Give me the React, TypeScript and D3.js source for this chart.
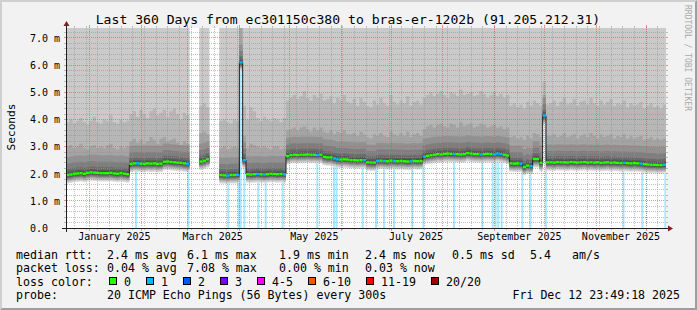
import React from 'react';
import * as d3 from 'd3';

// ---------- data ----------
const START = Date.UTC(2024, 11, 17, 23, 49, 18);
const END = Date.UTC(2025, 11, 12, 23, 49, 18);
const TOTAL_DAYS = 360;
const DAYS_PER_BIN = 2;

// median rtt per 2-day bin (ms); null = no data
const medianRtt: (number | null)[] = [
  1.95, 1.97, 2.0, 2.01, 2.02, 2.0, 2.03, 2.05, 2.04, 2.03, 2.02, 2.02, 2.02, 2.03, 2.01, 2.0, 2.02, 2.0, 1.98,
  2.36, 2.38, 2.38, 2.37, 2.36, 2.38, 2.37, 2.38, 2.36, 2.37, 2.44, 2.45, 2.43, 2.42, 2.41, 2.4, 2.38, 2.37,
  null, null, null,
  2.45, 2.48, 2.53,
  null, null, null,
  1.95, 1.94, 1.93, 1.95, 1.95, 1.96,
  6.1,
  2.5,
  1.98, 1.97, 1.98, 1.99, 1.98, 1.97, 1.98, 2.0, 1.99, 1.98, 1.99, 1.98,
  2.65, 2.69, 2.7, 2.69, 2.7, 2.7, 2.71, 2.7, 2.7, 2.69, 2.7, 2.62, 2.6, 2.6, 2.56, 2.53, 2.52, 2.53, 2.52,
  2.5, 2.5, 2.49, 2.5, 2.5, 2.42, 2.41, 2.41, 2.47, 2.48, 2.47, 2.46, 2.48, 2.47, 2.46, 2.47, 2.46, 2.45, 2.46, 2.47, 2.46, 2.47,
  2.63, 2.66, 2.68, 2.7, 2.72, 2.71, 2.73, 2.74, 2.73, 2.72, 2.72, 2.71, 2.72, 2.76, 2.74, 2.72, 2.72, 2.71, 2.72, 2.73, 2.72, 2.71, 2.74, 2.72, 2.7, 2.67,
  2.38, 2.37, 2.38, 2.37, 2.25, 2.3, 2.28, 2.54, 2.54, 2.4, 4.14, 2.42,
  2.42, 2.41, 2.43, 2.42, 2.42, 2.41, 2.43, 2.42, 2.41, 2.42, 2.43, 2.41, 2.42, 2.41, 2.42, 2.4, 2.41, 2.42, 2.4, 2.41, 2.4, 2.39, 2.4, 2.39, 2.38, 2.39, 2.38, 2.37, 2.35, 2.34, 2.33, 2.33, 2.32, 2.32, 2.33,
];

// 18th of 20 sorted pings per bin (ms) - top of the mid-grey smoke band
const ping18: (number | null)[] = [
  3.9, 4.0, 3.85, 3.95, 4.05, 3.9, 3.8, 3.95, 4.1, 3.9, 3.85, 4.0, 3.95, 4.15, 3.9, 3.85, 4.0, 3.9, 3.95,
  4.2, 4.3, 4.1, 4.35, 4.2, 4.05, 4.3, 4.4, 4.15, 4.25, 4.35, 4.1, 4.3, 4.4, 4.2, 4.0, 4.25, 4.15,
  null, null, null,
  4.5, 4.6, 4.45,
  null, null, null,
  3.95, 4.0, 3.9, 3.85, 4.0, 3.95,
  7.6,
  4.5,
  4.0, 4.45, 4.3, 4.05, 3.95, 4.1, 4.0, 3.95, 4.05, 4.0, 3.9, 4.05,
  4.7, 4.8, 4.9, 4.75, 4.85, 5.05, 4.8, 4.7, 4.9, 4.8, 4.95, 4.7, 4.75, 4.85, 4.6, 4.8, 4.7, 4.9, 4.65,
  4.6, 4.75, 4.5, 4.8, 4.65, 4.5, 4.45, 4.7, 4.55, 4.8, 4.6, 4.5, 4.9, 4.65, 4.55, 4.7, 4.6, 4.85, 4.5, 4.65, 4.7, 4.55,
  4.8, 4.9, 5.0, 4.85, 4.95, 5.05, 4.9, 4.8, 5.0, 4.95, 4.85, 5.1, 4.9, 4.95, 5.0, 4.85, 4.9, 5.05, 4.95, 4.8, 4.9, 5.0, 4.85, 4.95, 4.8, 4.9,
  4.5, 4.6, 4.45, 4.55, 4.4, 4.65, 4.5, 4.7, 4.6, 4.5, 5.4, 4.55,
  4.6, 4.7, 4.5, 4.65, 4.8, 4.55, 4.6, 4.75, 4.5, 4.65, 4.7, 4.55, 4.8, 4.6, 4.5, 4.7, 4.55, 4.65, 4.75, 4.5, 4.6, 4.55, 4.7, 4.45, 4.6, 4.5, 4.55, 4.65, 4.4, 4.5, 4.6, 4.45, 4.5, 4.4, 4.55,
];

// 17th of 20 sorted pings per bin (ms)
const ping17: (number | null)[] = [
  3.0, 3.05, 2.95, 3.0, 3.1, 2.95, 2.9, 3.0, 3.05, 2.95, 3.0, 2.95, 3.05, 3.1, 2.95, 2.9, 3.0, 2.95, 3.0,
  3.2, 3.3, 3.15, 3.25, 3.1, 3.2, 3.35, 3.25, 3.1, 3.3, 3.35, 3.2, 3.25, 3.3, 3.15, 3.05, 3.2, 3.1,
  null, null, null,
  3.5, 3.55, 3.45,
  null, null, null,
  2.95, 3.0, 2.9, 2.95, 3.0, 2.95,
  7.5,
  3.4,
  2.95, 3.1, 3.05, 3.0, 2.95, 3.0, 2.95, 2.9, 3.0, 3.0, 2.9, 2.95,
  3.6, 3.65, 3.7, 3.6, 3.7, 3.75, 3.65, 3.55, 3.7, 3.6, 3.7, 3.55, 3.5, 3.6, 3.45, 3.55, 3.5, 3.6, 3.45,
  3.45, 3.5, 3.4, 3.55, 3.45, 3.35, 3.3, 3.45, 3.4, 3.5, 3.4, 3.35, 3.55, 3.45, 3.4, 3.5, 3.4, 3.55, 3.35, 3.45, 3.5, 3.4,
  3.65, 3.75, 3.8, 3.7, 3.8, 3.85, 3.75, 3.7, 3.85, 3.8, 3.7, 3.9, 3.75, 3.8, 3.85, 3.7, 3.75, 3.85, 3.8, 3.7, 3.75, 3.8, 3.7, 3.75, 3.65, 3.7,
  3.35, 3.4, 3.3, 3.35, 3.25, 3.4, 3.3, 3.5, 3.45, 3.35, 4.9, 3.4,
  3.4, 3.45, 3.35, 3.4, 3.5, 3.35, 3.4, 3.45, 3.3, 3.4, 3.45, 3.35, 3.5, 3.4, 3.3, 3.45, 3.35, 3.4, 3.45, 3.3, 3.4, 3.35, 3.45, 3.3, 3.4, 3.3, 3.35, 3.4, 3.25, 3.3, 3.35, 3.25, 3.3, 3.25, 3.3,
];

// typical spread of the remaining sorted pings around the median (ms)
const lowerPingOffsets = [-0.31, -0.27, -0.23, -0.2, -0.17, -0.14, -0.11, -0.08, -0.05, -0.02]; // pings 1..10
const upperPingOffsets = [0.02, 0.06, 0.12, 0.22, 0.42, 0.66]; // pings 11..16
const outlierPings = [8.5, 9.5]; // pings 19, 20 (off scale)

// days (from start) with 1/20 packet loss
const lossDays = [
  42.0, 73.4, 97.4, 103.6, 104.8, 107.0, 115.4, 119.8, 130.0, 150.8, 160.8, 162.3, 178.0, 186.0, 190.8,
  196.8, 207.8, 214.4, 232.8, 249.8, 256.0, 257.8, 259.4, 261.4, 273.8, 278.7, 287.9, 334.5, 345.8, 359.6,
];

const yTickValues = [0, 1, 2, 3, 4, 5, 6, 7];
const yTickLabels = ['0.0', '1.0 m', '2.0 m', '3.0 m', '4.0 m', '5.0 m', '6.0 m', '7.0 m'];
const monthLabels = ['January 2025', 'March 2025', 'May 2025', 'July 2025', 'September 2025', 'November 2025'];
const monthLabelDates = [Date.UTC(2025, 0, 1), Date.UTC(2025, 2, 1), Date.UTC(2025, 4, 1), Date.UTC(2025, 6, 1), Date.UTC(2025, 8, 1), Date.UTC(2025, 10, 1)];

const title = 'Last 360 Days from ec301150c380 to bras-er-1202b (91.205.212.31)';
const rttStats = ['2.4 ms avg', '6.1 ms max', '1.9 ms min', '2.4 ms now', '0.5 ms sd', '5.4', 'am/s'];
const lossStats = ['0.04 % avg', '7.08 % max', '0.00 % min', '0.03 % now'];
const lossColorLabels = ['0', '1', '2', '3', '4-5', '6-10', '11-19', '20/20'];
const lossColors = ['#26ff00', '#00b8ff', '#0059ff', '#7e00ff', '#ff00ff', '#ff5500', '#ff0000', '#a10000'];
const probeText = '20 ICMP Echo Pings (56 Bytes) every 300s';
const dateText = 'Fri Dec 12 23:49:18 2025';

// ---------- layout ----------
const W = 697, H = 310;
const X0 = 66, X1 = 666, Y0 = 228, Y1 = 28;
const FONT = "'DejaVu Sans Mono', monospace";

export default function App() {
  const x = d3.scaleLinear().domain([0, TOTAL_DAYS]).range([X0, X1]);
  const xt = d3.scaleUtc().domain([new Date(START), new Date(END)]).range([X0, X1]);
  const y = d3.scaleLinear().domain([0, (200 * 7) / 190]).range([Y0, Y1]);

  const bins = medianRtt.map((m, i) => {
    if (m == null) return null;
    const pings = [
      ...lowerPingOffsets.map((o) => m + o),
      ...upperPingOffsets.map((o) => m + o),
      ping17[i] as number,
      ping18[i] as number,
      ...outlierPings,
    ];
    return { m, pings };
  });
  const pts = bins.flatMap((b, i) => [
    { day: i * DAYS_PER_BIN, b },
    { day: (i + 1) * DAYS_PER_BIN, b },
  ]);

  const layers = d3.range(10).map((k) => {
    const g = Math.floor((190 / 10) * (10 - (k + 1))) + 50;
    const area = d3
      .area<any>()
      .defined((p) => p.b != null)
      .x((p) => x(p.day))
      .y0((p) => y(p.b.pings[k]))
      .y1((p) => y(Math.max(p.b.pings[19 - k], p.b.pings[k])));
    return { d: area(pts) || '', color: d3.rgb(g, g, g).formatHex() };
  });

  const medianLine = d3
    .line<any>()
    .defined((p) => p.b != null)
    .x((p) => x(p.day))
    .y((p) => y(p.b.m))(pts) || '';

  const lossBins = new Set(lossDays.map((d) => Math.floor(d / DAYS_PER_BIN)));

  const months = d3.utcMonth.range(new Date(START), new Date(END));
  const weeks = d3.utcMonday.range(new Date(START), new Date(END));
  const minorY = d3.range(1, 37).map((v) => v * 0.2).filter((v) => Math.abs(v - Math.round(v)) > 1e-6);

  const snap = (v: number) => Math.floor(v) + 0.5;
  const gridGray = 'rgba(143,143,143,0.55)';
  const gridRed = 'rgba(222,79,79,0.6)';

  const legendRowY = [258.6, 272.2, 285.8, 299.4];
  const statX = [107, 187, 279, 365, 452, 530, 572];
  const boxX = [109, 146, 183, 220, 257, 308, 366, 431];

  return (
    <svg width={W} height={H} style={{ position: 'absolute', left: 0, top: 0 }} fontFamily={FONT}>
      <defs>
        <clipPath id="plot">
          <rect x={X0} y={Y1} width={X1 - X0} height={Y0 - Y1} />
        </clipPath>
      </defs>
      <rect x={0} y={0} width={W} height={H} fill="#f2f2f2" />
      <polygon points={`0,${H} 2,${H - 2} 2,2 ${W - 2},2 ${W},0 0,0`} fill="#cfcfcf" />
      <polygon points={`2,${H - 2} ${W - 2},${H - 2} ${W - 2},2 ${W},0 ${W},${H} 0,${H}`} fill="#9e9e9e" />
      <rect x={X0} y={Y1} width={X1 - X0} height={Y0 - Y1} fill="#ffffff" />

      <g clipPath="url(#plot)">
        {lossDays.map((d, i) => (
          <rect key={i} x={x(d) - 1} y={Y1} width={2} height={Y0 - Y1} fill="#00b8ff" fillOpacity={0.34} />
        ))}
        {layers.map((l, i) => (
          <path key={i} d={l.d} fill={l.color} />
        ))}
      </g>

      {/* grid */}
      <g>
        {minorY.map((v, i) => {
          const yy = snap(y(v));
          return (
            <g key={i}>
              <line x1={X0 - 2} x2={X0} y1={yy} y2={yy} stroke={gridGray} />
              <line x1={X1} x2={X1 + 2} y1={yy} y2={yy} stroke={gridGray} />
              <line x1={X0 + 1} x2={X1 - 1} y1={yy} y2={yy} stroke={gridGray} strokeDasharray="1,1" />
            </g>
          );
        })}
        {weeks.map((w, i) => {
          const xx = snap(xt(w));
          return (
            <g key={i}>
              <line x1={xx} x2={xx} y1={Y0} y2={Y0 + 2} stroke={gridGray} />
              <line x1={xx} x2={xx} y1={Y1 - 2} y2={Y1} stroke={gridGray} />
              <line x1={xx} x2={xx} y1={Y1 + 1} y2={Y0 - 1} stroke={gridGray} strokeDasharray="1,1" />
            </g>
          );
        })}
        {yTickValues.slice(1).map((v, i) => {
          const yy = snap(y(v));
          return (
            <g key={i}>
              <line x1={X0 - 2} x2={X0} y1={yy} y2={yy} stroke={gridRed} />
              <line x1={X1} x2={X1 + 2} y1={yy} y2={yy} stroke={gridRed} />
              <line x1={X0 + 1} x2={X1 - 1} y1={yy} y2={yy} stroke={gridRed} strokeDasharray="1,1" />
            </g>
          );
        })}
        {months.map((m, i) => {
          const xx = snap(xt(m));
          return (
            <g key={i}>
              <line x1={xx} x2={xx} y1={Y0} y2={Y0 + 3} stroke={gridRed} />
              <line x1={xx} x2={xx} y1={Y1 - 3} y2={Y1} stroke={gridRed} />
              <line x1={xx} x2={xx} y1={Y1 + 1} y2={Y0 - 1} stroke={gridRed} strokeDasharray="1,1" />
            </g>
          );
        })}
      </g>

      {/* median */}
      <g clipPath="url(#plot)">
        <path d={medianLine} fill="none" stroke="#202020" strokeWidth={1} />
        {bins.map((b, i) =>
          b == null ? null : (
            <rect
              key={i}
              x={x(i * DAYS_PER_BIN)}
              width={x((i + 1) * DAYS_PER_BIN) - x(i * DAYS_PER_BIN)}
              y={y(b.m) - 1.2}
              height={2.4}
              fill={lossBins.has(i) ? lossColors[1] : lossColors[0]}
            />
          )
        )}
      </g>

      {/* axes */}
      <line x1={X0 - 4} x2={X1 + 4} y1={Y0 + 0.5} y2={Y0 + 0.5} stroke="#1f1f1f" />
      <line x1={X0 + 0.5} x2={X0 + 0.5} y1={Y0 + 4} y2={Y1 - 4} stroke="#1f1f1f" />
      <polygon points={`${X1 + 2},${Y0 - 3 + 0.5} ${X1 + 2},${Y0 + 3 + 0.5} ${X1 + 7},${Y0 + 0.5}`} fill="#801f1f" />
      <polygon points={`${X0 - 3 + 0.5},${Y1 - 2} ${X0 + 3 + 0.5},${Y1 - 2} ${X0 + 0.5},${Y1 - 7}`} fill="#801f1f" />

      {/* y labels */}
      {yTickValues.map((v, i) => (
        <text key={i} x={30} y={y(v) + 3.8} fontSize={10} fill="#000">
          {yTickLabels[i]}
        </text>
      ))}
      {/* x labels */}
      {monthLabelDates.map((d, i) => (
        <text key={i} x={xt(new Date(d + 15 * 86400000))} y={240} fontSize={10} textAnchor="middle" fill="#000">
          {monthLabels[i]}
        </text>
      ))}

      <text x={348} y={24} fontSize={13.1} textAnchor="middle" fill="#000">
        {title}
      </text>
      <text transform="translate(15,127) rotate(-90)" fontSize={11.2} textAnchor="middle" fill="#000">
        Seconds
      </text>
      <text transform="translate(685,5) rotate(90)" fontSize={8} fill="#a9a9a9">
        RRDTOOL / TOBI OETIKER
      </text>

      {/* legend */}
      <g fontSize={11.6} fill="#000">
        <text x={16} y={legendRowY[0]} style={{ whiteSpace: 'pre' }}>median rtt:</text>
        {rttStats.map((s, i) => (
          <text key={i} x={statX[i]} y={legendRowY[0]}>{s}</text>
        ))}
        <text x={16} y={legendRowY[1]}>packet loss:</text>
        {lossStats.map((s, i) => (
          <text key={i} x={statX[i]} y={legendRowY[1]}>{s}</text>
        ))}
        <text x={16} y={legendRowY[2]}>loss color:</text>
        {lossColorLabels.map((s, i) => (
          <g key={i}>
            <rect x={boxX[i] + 0.5} y={277.5} width={7} height={7} fill={lossColors[i]} stroke="#000" strokeWidth={1} />
            <text x={boxX[i] + 15} y={legendRowY[2]}>{s}</text>
          </g>
        ))}
        <text x={16} y={legendRowY[3]}>probe:</text>
        <text x={107} y={legendRowY[3]}>{probeText}</text>
        <text x={680} y={legendRowY[3]} textAnchor="end">{dateText}</text>
      </g>
    </svg>
  );
}
